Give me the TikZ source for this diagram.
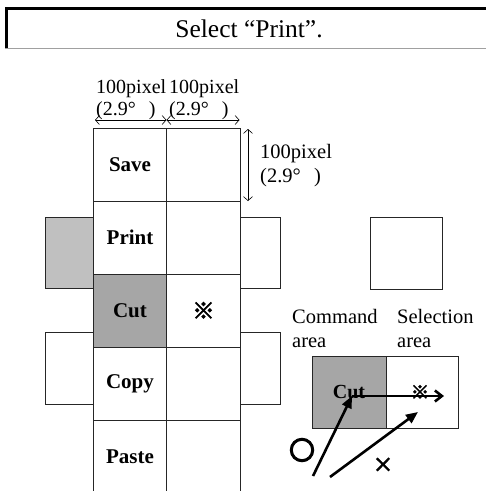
\documentclass[tikz,border=0pt]{standalone}
\usepackage{fontspec}
\setmainfont{Liberation Serif}
\newfontfamily\cjk{Noto Sans CJK JP}
\newfontfamily\cjkb[FakeBold=4]{Noto Sans CJK JP}
\usetikzlibrary{arrows.meta}
\definecolor{cutgray}{HTML}{A6A6A6}
\definecolor{lightgray2}{HTML}{C0C0C0}
\definecolor{framegray}{HTML}{A0A0A0}
\begin{document}
\begin{tikzpicture}[x=1pt,y=-1pt,
  cell/.style={draw=black!85,line width=0.8pt,minimum width=73.5pt,minimum height=73pt,inner sep=0pt,outer sep=0pt,font=\fontsize{21}{24}\selectfont\bfseries},
  side/.style={draw=black!85,line width=0.8pt,inner sep=0pt,outer sep=0pt,anchor=north west},
  lbl/.style={font=\fontsize{20}{22}\selectfont,inner sep=0pt,align=left,anchor=north west},
  dim/.style={{Straight Barb[length=4pt,width=9pt]}-{Straight Barb[length=4pt,width=9pt]},line width=0.6pt},
  bigarrow/.style={-{Triangle[length=12pt,width=10pt]},line width=2.6pt},
  openarrow/.style={-{Straight Barb[length=7pt,width=11pt]},line width=2.6pt}
]
\useasboundingbox (0,0) rectangle (486,491);
\clip (0,0) rectangle (486,491);
% banner frame
\fill[black] (5,7) rectangle (486,9.8);
\fill[black] (5,7) rectangle (7.5,48);
\draw[framegray,line width=1pt] (5,48.5) -- (486,48.5);
\node[font=\fontsize{25.5}{28}\selectfont,inner sep=0pt] (title) at (249,29) {Select “Print”.};
% side boxes
\node[side,fill=lightgray2,minimum width=48pt,minimum height=71.5pt] (lup) at (45,217) {};
\node[side,minimum width=40pt,minimum height=71.5pt] (rup) at (240,217) {};
\node[side,minimum width=48pt,minimum height=72pt] (llo) at (45,332) {};
\node[side,minimum width=40pt,minimum height=72pt] (rlo) at (240,332) {};
% grid
\node[cell] (save) at (130,164.5) {Save};
\node[cell] (save2) at (203.5,164.5) {};
\node[cell] (print) at (130,237.5) {Print};
\node[cell] (print2) at (203.5,237.5) {};
\node[cell,fill=cutgray] (cut) at (130,310.5) {Cut};
\node[cell,font=\fontsize{22}{24}\selectfont\cjkb] (cut2) at (203.5,310.5) {※};
\node[cell] (copy) at (130,383.5) {Copy};
\node[cell] (copy2) at (203.5,383.5) {};
\node[cell] (paste) at (130,456.5) {Paste};
\node[cell] (paste2) at (203.5,456.5) {};
% dimension arrows
\coordinate (h1) at (95,120);
\coordinate (h2) at (166.5,120);
\coordinate (h3) at (239.5,120);
\coordinate (v1) at (248,129);
\coordinate (v2) at (248,201);
\draw[dim] (h1) -- (h2);
\draw[dim] (h2) -- (h3);
\draw[dim] (v1) -- (v2);
\node[lbl] (d1) at (96,79) {100pixel\\(2.9°\hspace{0.65em})};
\node[lbl] (d2) at (169,79) {100pixel\\(2.9°\hspace{0.65em})};
\node[lbl,font=\fontsize{20.5}{24}\selectfont] (d3) at (260,144) {100pixel\\(2.9°\hspace{0.65em})};
% top right box
\node[side,minimum width=72pt,minimum height=72pt] (trbox) at (370,217) {};
% area labels
\node[lbl,font=\fontsize{20.5}{24}\selectfont] (cmdlbl) at (292,309) {Command\\area};
\node[lbl,font=\fontsize{20.5}{24}\selectfont] (sellbl) at (397,309) {Selection\\area};
% command / selection areas
\node[side,fill=cutgray,minimum width=74pt,minimum height=72pt] (cmd) at (312,356) {};
\node[side,minimum width=72pt,minimum height=72pt] (sel) at (386,356) {};
\node[font=\fontsize{20}{24}\selectfont\bfseries,inner sep=0pt] (cmdcut) at (349,392) {Cut};
\node[font=\fontsize{18}{20}\selectfont\cjkb,inner sep=0pt] (selmark) at (420,392) {※};
\coordinate (cutpt) at (352,396);
\coordinate (selend) at (444,396);
\draw[openarrow] (cutpt) -- (selend);
\coordinate (s1) at (313,476);
\coordinate (s2) at (330,477);
\coordinate (e2) at (418,412);
\draw[bigarrow] (s1) -- (cutpt);
\draw[bigarrow] (s2) -- (e2);
\node[font=\fontsize{26}{28}\selectfont\cjkb,inner sep=0pt] (okmark) at (302,450) {〇};
\node[font=\fontsize{20}{22}\selectfont\cjkb,inner sep=0pt] (ngmark) at (383,465) {×};
\end{tikzpicture}
\end{document}
